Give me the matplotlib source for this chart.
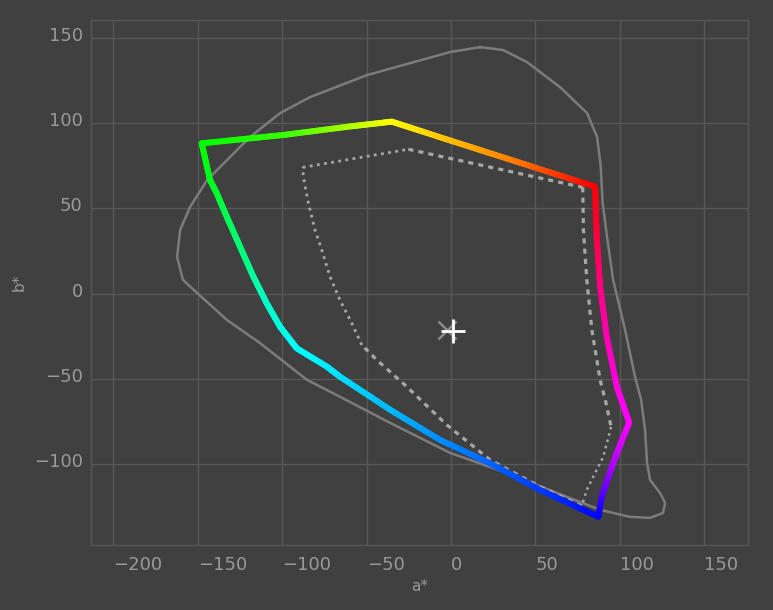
import numpy as np
import matplotlib
matplotlib.use("Agg")
import matplotlib.pyplot as plt
import matplotlib.transforms as mtransforms
from matplotlib.collections import LineCollection
from matplotlib.colors import hsv_to_rgb

# coloured gamut outline (a*, b*) and the hue at each point (degrees, unwrapped)
gamut_a = [-147.7, -99.3, -59.8, -35.1, 0.0, 40.9, 85.3, 86.3, 88.3, 92.2, 98.2, 105.5,
           98.2, 93.2, 89.3, 87.2, 52.7, 23.1, -6.5, -36.1, -65.8, -73.6, -91.4,
           -101.3, -109.2, -117.1, -125.0, -132.9, -138.8, -142.8, -147.7]
gamut_b = [88.1, 93.0, 98.0, 100.8, 89.6, 76.7, 62.7, 33.4, 4.0, -25.3, -54.6, -75.6,
           -93.6, -107.3, -119.1, -130.8, -115.1, -99.5, -85.8, -68.1, -48.7, -42.8, -32.1,
           -19.4, -5.7, 9.9, 27.5, 45.1, 58.8, 66.6, 88.1]
gamut_hue = [120, 108, 80, 60, 45, 28, 0, -15, -30, -42, -53, -60,
             -72, -85, -100, -120, -133, -143, -153, -163, -172, -175, -180,
             -187, -193, -202, -212, -220, -228, -233, -240]

# second (grey) gamut, split into edges drawn dotted / dashed
g2_top_left_a = [-87.9, -25.3]
g2_top_left_b = [74.0, 84.6]
g2_top_right_a = [-25.3, 78.0]
g2_top_right_b = [84.6, 62.3]
g2_right_a = [78.0, 78.4, 80.4, 83.4, 88.3, 91.8, 94.8]
g2_right_b = [62.3, 37.3, 8.0, -21.3, -50.6, -64.1, -78.2]
g2_low_right_a = [94.8, 90.2, 84.3, 80.4, 77.4]
g2_low_right_b = [-78.2, -95.6, -107.3, -115.1, -124.5]
g2_bottom_a = [77.4, 52.7, 23.1, -2.5, -26.2, -44.0, -52.9]
g2_bottom_b = [-124.5, -113.2, -97.5, -77.0, -54.6, -38.9, -30.1]
g2_left_a = [-52.9, -58.8, -65.8, -71.7, -76.6, -80.6, -84.5, -87.5, -87.9]
g2_left_b = [-30.1, -17.4, -3.8, 9.9, 25.6, 37.3, 52.9, 68.5, 74.0]

# outer locus
locus_a = [17.2, 30.8, 45.0, 64.6, 80.6, 86.5, 88.6, 89.8, 92.4, 96.0, 103.1, 109.0,
           112.6, 114.9, 116.1, 117.9, 123.8, 126.8, 125.6, 117.9, 106.0, 88.3, 62.8,
           33.2, -0.6, -36.1, -65.8, -85.3, -113.2, -132.7, -150.5, -158.8, -162.3,
           -160.5, -154.6, -144.5, -119.1, -101.3, -83.5, -49.8, -0.6, 17.2]
locus_b = [144.5, 142.8, 135.7, 121.0, 105.8, 91.8, 75.0, 53.1, 33.2, 8.0, -21.3, -48.9,
           -62.3, -79.9, -99.3, -109.3, -116.9, -122.7, -128.6, -131.5, -130.9, -126.8, -116.9,
           -105.2, -93.4, -75.8, -60.5, -50.6, -29.0, -15.5, 0.4, 8.0, 21.5,
           37.3, 50.8, 66.6, 91.8, 105.8, 115.2, 128.1, 141.6, 144.5]

# white points
wp_x = (-2.2, -21.5)
wp_plus = (1.2, -21.9)

bg = "#404040"
grid_c = "#595959"
text_c = "#9a9a9a"

fig = plt.figure(figsize=(7.73, 6.10), dpi=100, facecolor=bg)
ax = fig.add_axes([91 / 773, 1 - 544.5 / 610, 657 / 773, 524.5 / 610])
ax.set_facecolor(bg)

ax.set_xlim(-213.3, 175.9)
ax.set_ylim(-147.1, 160.4)
ax.set_xticks([-200, -150, -100, -50, 0, 50, 100, 150])
ax.set_yticks([-100, -50, 0, 50, 100, 150])
ax.grid(True, color=grid_c, linewidth=0.9)
ax.set_axisbelow(True)
for s in ax.spines.values():
    s.set_color(grid_c)
    s.set_linewidth(0.9)

fmt = matplotlib.ticker.FuncFormatter(lambda v, p: ("%d" % v).replace("-", "\u2212"))
ax.xaxis.set_major_formatter(fmt)
ax.yaxis.set_major_formatter(fmt)

ax.tick_params(length=0, colors=text_c, labelsize=13)
ax.tick_params(axis="x", pad=8)
ax.tick_params(axis="y", pad=6)
for lab in ax.get_xticklabels():
    lab.set_horizontalalignment("left")
up = mtransforms.ScaledTranslation(0, 4 / 100, fig.dpi_scale_trans)
for lab in ax.get_yticklabels():
    lab.set_transform(lab.get_transform() + up)

ax.set_xlabel("a*", color=text_c, fontsize=11, labelpad=4)
ax.set_ylabel("b*", color=text_c, fontsize=11, labelpad=5)

# outer locus
ax.plot(locus_a, locus_b, color="#7c7c7c", linewidth=1.8, zorder=2)

# grey gamut
gc = "#a8a8a8"
dotted = (0, (1.0, 1.6))
dashed = (0, (1.6, 1.6))
ax.plot(g2_top_left_a, g2_top_left_b, color=gc, lw=2.0, ls=dotted, zorder=3)
ax.plot(g2_top_right_a, g2_top_right_b, color=gc, lw=2.3, ls=dashed, zorder=3)
ax.plot(g2_right_a, g2_right_b, color=gc, lw=2.3, ls=dashed, zorder=3)
ax.plot(g2_low_right_a, g2_low_right_b, color=gc, lw=1.8, ls=dotted, zorder=3)
ax.plot(g2_bottom_a, g2_bottom_b, color=gc, lw=2.3, ls=dashed, zorder=3)
ax.plot(g2_left_a, g2_left_b, color=gc, lw=2.0, ls=dotted, zorder=3)

# coloured gamut, gradient along each edge
segs, cols = [], []
for i in range(len(gamut_a) - 1):
    n = 20
    t = np.linspace(0, 1, n + 1)
    xs = gamut_a[i] + (gamut_a[i + 1] - gamut_a[i]) * t
    ys = gamut_b[i] + (gamut_b[i + 1] - gamut_b[i]) * t
    hs = gamut_hue[i] + (gamut_hue[i + 1] - gamut_hue[i]) * t
    for k in range(n):
        segs.append([(xs[k], ys[k]), (xs[k + 1], ys[k + 1])])
        h = ((hs[k] + hs[k + 1]) / 2 % 360) / 360
        cols.append(hsv_to_rgb((h, 1, 1)))
lc = LineCollection(segs, colors=cols, linewidths=4.3, capstyle="round", zorder=4)
ax.add_collection(lc)

# white points
ax.plot(*wp_x, marker="x", color="#8c8c8c", markersize=13, mew=1.8, zorder=5)
ax.plot(*wp_plus, marker="+", color="white", markersize=17, mew=2.0, zorder=6)

fig.savefig("out.png", dpi=100, facecolor=bg)
